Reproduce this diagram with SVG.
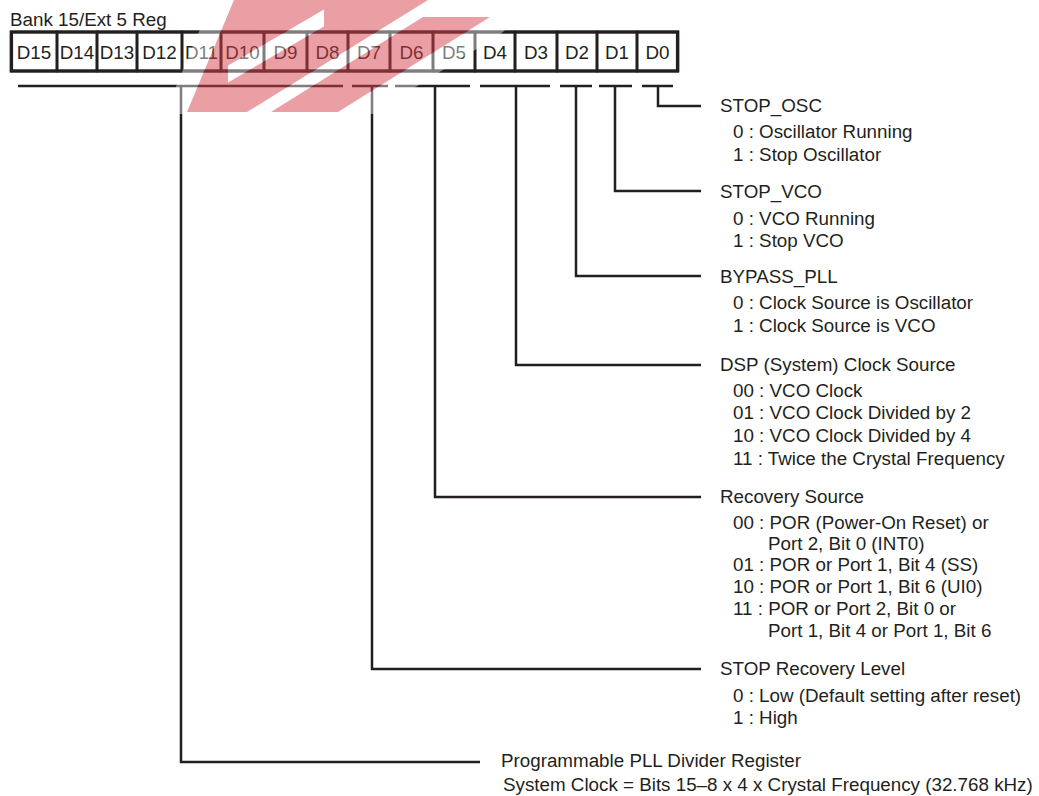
<svg xmlns="http://www.w3.org/2000/svg" width="1039" height="796" viewBox="0 0 1039 796">
<style>
text{font-family:"Liberation Sans",Arial,Helvetica,sans-serif;font-size:18.8px;fill:#231f20}
.c{text-anchor:middle}
.cell{fill:none;stroke:#231f20;stroke-width:2.6}
.frame{fill:none;stroke:#231f20;stroke-width:3.2}
.ln{fill:none;stroke:#231f20;stroke-width:2.5;stroke-linecap:butt;stroke-linejoin:miter}
.wm{fill:#d6404a;fill-opacity:0.5}
</style>
<defs>
<mask id="wmhalo" maskUnits="userSpaceOnUse" x="0" y="0" width="1039" height="796">
<g fill="#fff" stroke="#fff" stroke-width="40" stroke-linejoin="round">
<path fill-rule="evenodd" d="M187,112 L234,0 L428,0 L247,112 Z M228,65.5 L324,9.5 L324,26.5 L228,82.5 Z"/>
<path d="M271,112 L338,112 L490,17 L423,17 Z"/>
</g>
<g fill="#000">
<path fill-rule="evenodd" d="M187,112 L234,0 L428,0 L247,112 Z M228,65.5 L324,9.5 L324,26.5 L228,82.5 Z"/>
<path d="M271,112 L338,112 L490,17 L423,17 Z"/>
<rect x="0" y="114" width="1039" height="700"/>
</g>
</mask>
</defs>
<rect width="1039" height="796" fill="#fff"/>

<g id="title"><text x="10" y="26">Bank 15/Ext 5 Reg</text></g>

<g id="register">
<g id="cell-D15"><rect class="cell" x="11" y="32" width="46" height="39"/><text class="c" x="34" y="59">D15</text></g>
<g id="cell-D14"><rect class="cell" x="57" y="32" width="40" height="39"/><text class="c" x="77" y="59">D14</text></g>
<g id="cell-D13"><rect class="cell" x="97" y="32" width="40" height="39"/><text class="c" x="117" y="59">D13</text></g>
<g id="cell-D12"><rect class="cell" x="137" y="32" width="45" height="39"/><text class="c" x="159.5" y="59">D12</text></g>
<g id="cell-D11"><rect class="cell" x="182" y="32" width="39" height="39"/><text class="c" x="201.5" y="59">D11</text></g>
<g id="cell-D10"><rect class="cell" x="221" y="32" width="43" height="39"/><text class="c" x="242.5" y="59">D10</text></g>
<g id="cell-D9"><rect class="cell" x="264" y="32" width="43" height="39"/><text class="c" x="285.5" y="59">D9</text></g>
<g id="cell-D8"><rect class="cell" x="307" y="32" width="41" height="39"/><text class="c" x="327.5" y="59">D8</text></g>
<g id="cell-D7"><rect class="cell" x="348" y="32" width="42" height="39"/><text class="c" x="369" y="59">D7</text></g>
<g id="cell-D6"><rect class="cell" x="390" y="32" width="43" height="39"/><text class="c" x="411.5" y="59">D6</text></g>
<g id="cell-D5"><rect class="cell" x="433" y="32" width="42" height="39"/><text class="c" x="454" y="59">D5</text></g>
<g id="cell-D4"><rect class="cell" x="475" y="32" width="40" height="39"/><text class="c" x="495" y="59">D4</text></g>
<g id="cell-D3"><rect class="cell" x="515" y="32" width="42" height="39"/><text class="c" x="536" y="59">D3</text></g>
<g id="cell-D2"><rect class="cell" x="557" y="32" width="40" height="39"/><text class="c" x="577" y="59">D2</text></g>
<g id="cell-D1"><rect class="cell" x="597" y="32" width="40" height="39"/><text class="c" x="617" y="59">D1</text></g>
<g id="cell-D0"><rect class="cell" x="637" y="32" width="41" height="39"/><text class="c" x="657.5" y="59">D0</text></g>
<rect class="frame" x="11.5" y="32" width="666" height="39"/>
</g>

<g id="connectors">
<path class="ln" d="M18,86 H343 M352,86 H388 M395,86 H470 M480,86 H550 M560,86 H592 M599,86 H632 M642,86 H673"/>
<path class="ln" d="M658,86 V106 H701"/>
<path class="ln" d="M615,86 V191 H701"/>
<path class="ln" d="M576,86 V276 H701"/>
<path class="ln" d="M516,86 V365 H701"/>
<path class="ln" d="M435,86 V497 H701"/>
<path class="ln" d="M372,86 V669 H701"/>
<path class="ln" d="M181,86 V762 H480"/>
</g>

<g id="stop-osc">
<text x="720" y="112">STOP_OSC</text>
<text x="733" y="138">0 : Oscillator Running</text>
<text x="733" y="161">1 : Stop Oscillator</text>
</g>
<g id="stop-vco">
<text x="720" y="198">STOP_VCO</text>
<text x="733" y="225">0 : VCO Running</text>
<text x="733" y="247">1 : Stop VCO</text>
</g>
<g id="bypass-pll">
<text x="720" y="283">BYPASS_PLL</text>
<text x="733" y="309">0 : Clock Source is Oscillator</text>
<text x="733" y="332">1 : Clock Source is VCO</text>
</g>
<g id="dsp-clock">
<text x="720" y="371">DSP (System) Clock Source</text>
<text x="733" y="397">00 : VCO Clock</text>
<text x="733" y="419">01 : VCO Clock Divided by 2</text>
<text x="733" y="442">10 : VCO Clock Divided by 4</text>
<text x="733" y="465">11 : Twice the Crystal Frequency</text>
</g>
<g id="recovery-source">
<text x="720" y="503">Recovery Source</text>
<text x="733" y="529">00 : POR (Power-On Reset) or</text>
<text x="768" y="550">Port 2, Bit 0 (INT0)</text>
<text x="733" y="571">01 : POR or Port 1, Bit 4 (SS)</text>
<text x="733" y="593">10 : POR or Port 1, Bit 6 (UI0)</text>
<text x="733" y="615">11 : POR or Port 2, Bit 0 or</text>
<text x="768" y="637">Port 1, Bit 4 or Port 1, Bit 6</text>
</g>
<g id="stop-recovery-level">
<text x="720" y="675">STOP Recovery Level</text>
<text x="733" y="702">0 : Low (Default setting after reset)</text>
<text x="733" y="724">1 : High</text>
</g>
<g id="pll-divider">
<text x="501" y="767">Programmable PLL Divider Register</text>
<text x="503" y="791">System Clock = Bits 15–8 x 4 x Crystal Frequency (32.768 kHz)</text>
</g>

<g id="watermark">
<rect width="1039" height="796" fill="#fff" fill-opacity="0.42" mask="url(#wmhalo)"/>
<path class="wm" fill-rule="evenodd" d="M187,112 L234,0 L428,0 L247,112 Z M228,65.5 L324,9.5 L324,26.5 L228,82.5 Z"/>
<path class="wm" d="M271,112 L338,112 L490,17 L423,17 Z"/>
</g>
</svg>
